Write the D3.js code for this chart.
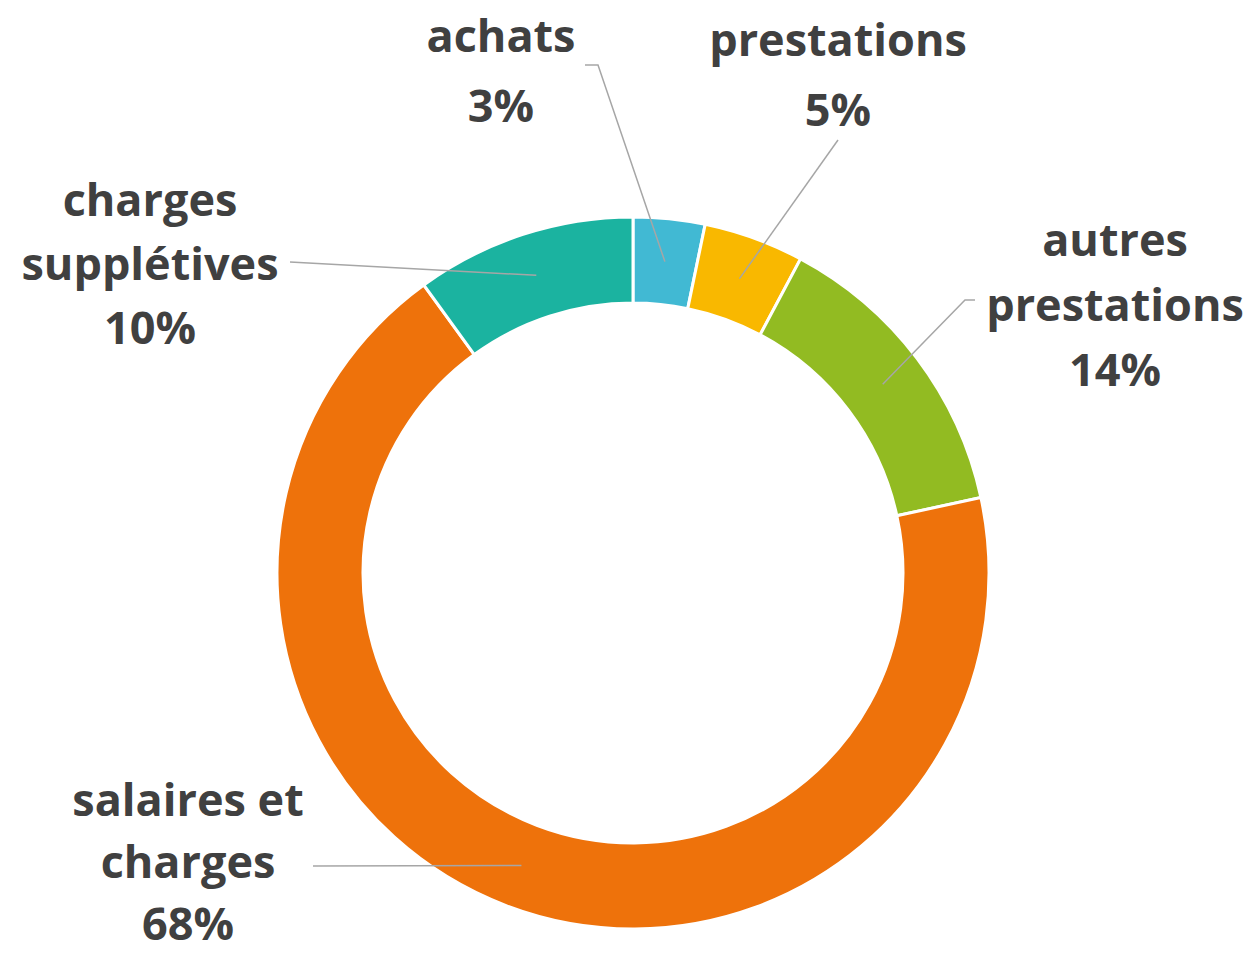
<html>
<head><meta charset="utf-8"></head>
<script src="https://d3js.org/d3.v7.min.js"></script>
<body style="margin:0;background:#fff">
</body>
<script>
    var width = 1251, height = 954;

    // data, clockwise from 12 o'clock
    let categories = ["achats", "prestations", "autres prestations", "salaires et charges", "charges supplétives"];
    let values = [3.25, 4.55, 13.8, 68.4, 10.0];
    let colors = ["#41b9d3", "#f9b800", "#92bb22", "#ee720b", "#1bb3a0"];
    // label lines as shown on the chart
    let labelLines = [["achats"], ["prestations"], ["autres", "prestations"], ["salaires et", "charges"], ["charges", "supplétives"]];

    // label layout: centre x, first baseline, line step, leader elbow points
    let labelPos = [
        {x: 501, y: 52, step: 70, leader: [[598, 65], [585, 65]]},
        {x: 838, y: 56, step: 70, leader: [[838, 140]]},
        {x: 1115, y: 256, step: 65, leader: [[965, 300], [975, 300]]},
        {x: 188, y: 816, step: 62, leader: [[313, 866]]},
        {x: 150, y: 216, step: 64, leader: [[290, 262]]}
    ];

    let cx = 633, cy = 573, outerR = 356, innerR = 270;

    let svg = d3.select("body").append("svg")
        .attr("width", width)
        .attr("height", height);

    let g = svg.append("g")
        .attr("transform", "translate(" + cx + "," + cy + ")");

    let pie = d3.pie().sort(null).value(d => d);
    let arcs = pie(values);
    let total = d3.sum(values);

    let arc = d3.arc().innerRadius(innerR).outerRadius(outerR);

    g.selectAll("path.slice")
        .data(arcs)
        .enter().append("path")
        .attr("class", "slice")
        .attr("d", arc)
        .attr("fill", (d, i) => colors[i])
        .attr("stroke", "#fff")
        .attr("stroke-width", 3);

    // leader lines from slice centroid
    arcs.forEach((d, i) => {
        let c = arc.centroid(d);
        let pts = [[cx + c[0], cy + c[1]]].concat(labelPos[i].leader);
        svg.append("path")
            .attr("d", d3.line()(pts))
            .attr("fill", "none")
            .attr("stroke", "#a6a6a6")
            .attr("stroke-width", 1.5);
    });

    // labels
    arcs.forEach((d, i) => {
        let p = labelPos[i];
        let lines = labelLines[i].concat([Math.round(d.value / total * 100) + "%"]);
        let t = svg.append("text")
            .attr("text-anchor", "middle")
            .attr("font-family", "'Open Sans', sans-serif")
            .attr("font-weight", 700)
            .attr("font-size", 45)
            .attr("fill", "#404040");
        lines.forEach((s, j) => {
            t.append("tspan")
                .attr("x", p.x)
                .attr("y", p.y + j * p.step)
                .text(s);
        });
    });
</script>
</html>
